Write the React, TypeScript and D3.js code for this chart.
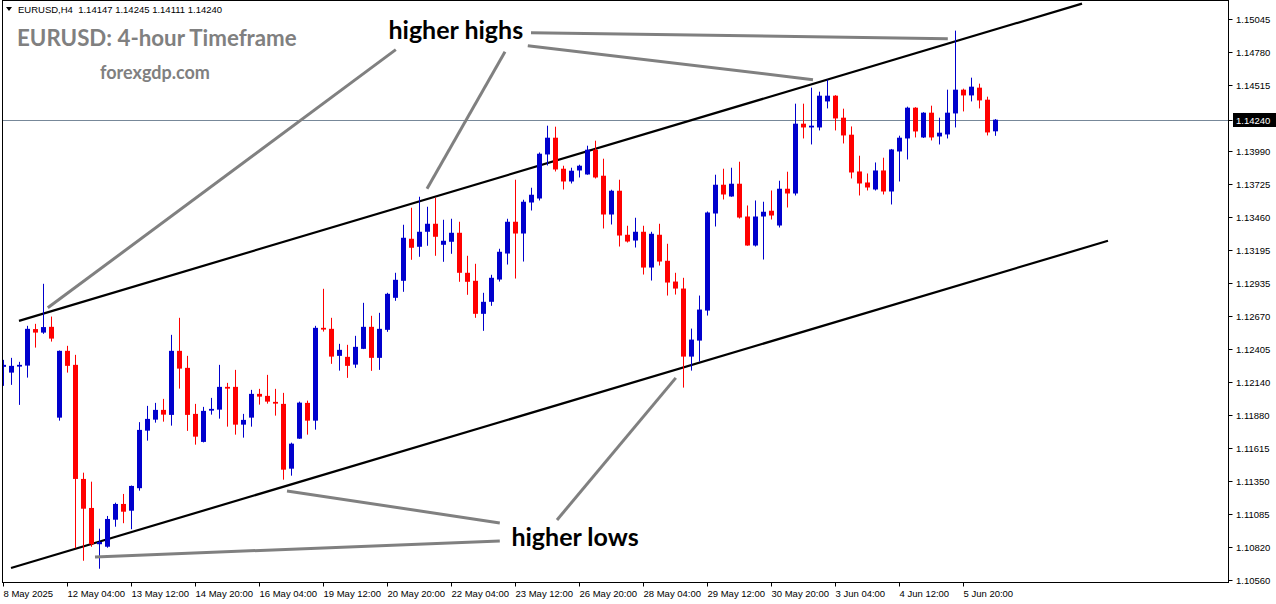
import React, { useEffect, useRef } from 'react';
import * as d3 from 'd3';

// EURUSD H4 bars, 8 May 20:00 -> 5 Jun 20:00
const openPrices = [
  1.12264, 1.12218, 1.12266, 1.12274, 1.12566, 1.12538, 1.12584, 1.11858, 1.12392, 1.12280,
  1.11368, 1.11136, 1.10846, 1.10826, 1.11042, 1.11168, 1.11114, 1.11294, 1.11754, 1.11842,
  1.11920, 1.11880, 1.12392, 1.12256, 1.11888, 1.11664, 1.11914, 1.11922, 1.12104, 1.12104,
  1.11802, 1.11858, 1.12048, 1.12032, 1.11984, 1.11968, 1.11450, 1.11690, 1.11976, 1.11834,
  1.12576, 1.12568, 1.12352, 1.12344, 1.12282, 1.12408, 1.12584, 1.12336, 1.12560, 1.12816,
  1.12952, 1.13288, 1.13224, 1.13344, 1.13408, 1.13240, 1.13264, 1.13336, 1.13016, 1.12952,
  1.12688, 1.12784, 1.12962, 1.13170, 1.13424, 1.13330, 1.13578, 1.13610, 1.13962, 1.14096,
  1.13848, 1.13746, 1.13834, 1.13802, 1.14000, 1.13792, 1.13482, 1.13672, 1.13320, 1.13274,
  1.13344, 1.13058, 1.13320, 1.13112, 1.12946, 1.12890, 1.12346, 1.12474, 1.12714, 1.13490,
  1.13720, 1.13626, 1.13728, 1.13466, 1.13234, 1.13466, 1.13512, 1.13394, 1.13688, 1.13650,
  1.14208, 1.14178, 1.14178, 1.14386, 1.14432, 1.14256, 1.14120, 1.13826, 1.13738, 1.13682,
  1.13834, 1.13666, 1.13986, 1.14090, 1.14336, 1.14098, 1.14296, 1.14106, 1.14122, 1.14290,
  1.14480, 1.14434, 1.14496, 1.14400, 1.14147,
];
const highPrices = [
  1.12320, 1.12336, 1.12304, 1.12592, 1.12608, 1.12928, 1.12666, 1.12395, 1.12432, 1.12360,
  1.11418, 1.11346, 1.10970, 1.11072, 1.11178, 1.11248, 1.11315, 1.11822, 1.11952, 1.11976,
  1.12008, 1.12520, 1.12656, 1.12352, 1.11968, 1.11944, 1.12016, 1.12280, 1.12136, 1.12240,
  1.11888, 1.12080, 1.12088, 1.12200, 1.12088, 1.12056, 1.11658, 1.11986, 1.11994, 1.12592,
  1.12888, 1.12656, 1.12448, 1.12440, 1.12512, 1.12776, 1.12672, 1.12696, 1.12856, 1.13016,
  1.13400, 1.13536, 1.13624, 1.13544, 1.13616, 1.13440, 1.13448, 1.13424, 1.13152, 1.13088,
  1.12856, 1.13000, 1.13208, 1.13448, 1.13760, 1.13600, 1.13696, 1.13978, 1.14192, 1.14184,
  1.13872, 1.13856, 1.13880, 1.14032, 1.14072, 1.13928, 1.13680, 1.13760, 1.13392, 1.13456,
  1.13392, 1.13344, 1.13408, 1.13248, 1.13016, 1.12976, 1.12570, 1.12834, 1.13506, 1.13800,
  1.13848, 1.13856, 1.13904, 1.13554, 1.13594, 1.13584, 1.13674, 1.13752, 1.13824, 1.14368,
  1.14368, 1.14496, 1.14464, 1.14560, 1.14436, 1.14328, 1.14186, 1.13952, 1.13810, 1.13898,
  1.13936, 1.14006, 1.14112, 1.14344, 1.14340, 1.14300, 1.14352, 1.14256, 1.14480, 1.14952,
  1.14488, 1.14576, 1.14528, 1.14424, 1.14245,
];
const lowPrices = [
  1.12112, 1.12120, 1.11960, 1.12178, 1.12418, 1.12528, 1.12466, 1.11834, 1.12218, 1.10814,
  1.10714, 1.10826, 1.10650, 1.10818, 1.10986, 1.11014, 1.10966, 1.11274, 1.11674, 1.11818,
  1.11826, 1.11794, 1.12090, 1.11752, 1.11642, 1.11660, 1.11882, 1.11850, 1.11786, 1.11722,
  1.11698, 1.11786, 1.11962, 1.11970, 1.11874, 1.11362, 1.11394, 1.11688, 1.11722, 1.11762,
  1.12546, 1.12288, 1.12234, 1.12176, 1.12256, 1.12406, 1.12232, 1.12240, 1.12544, 1.12792,
  1.12864, 1.13120, 1.13144, 1.13232, 1.13152, 1.13104, 1.13168, 1.12944, 1.12840, 1.12656,
  1.12552, 1.12752, 1.12946, 1.13082, 1.12970, 1.13106, 1.13514, 1.13594, 1.13874, 1.13826,
  1.13682, 1.13730, 1.13778, 1.13800, 1.13770, 1.13370, 1.13402, 1.13226, 1.13258, 1.13218,
  1.13002, 1.12954, 1.13074, 1.12834, 1.12842, 1.12098, 1.12234, 1.12306, 1.12674, 1.13386,
  1.13602, 1.13624, 1.13450, 1.13232, 1.13226, 1.13122, 1.13442, 1.13378, 1.13538, 1.13634,
  1.14090, 1.14042, 1.14154, 1.14330, 1.14154, 1.14050, 1.13770, 1.13634, 1.13674, 1.13674,
  1.13642, 1.13562, 1.13746, 1.13922, 1.14098, 1.14094, 1.14074, 1.14042, 1.14090, 1.14178,
  1.14306, 1.14386, 1.14330, 1.14114, 1.14111,
];
const closePrices = [
  1.12280, 1.12272, 1.12280, 1.12568, 1.12538, 1.12582, 1.12490, 1.12392, 1.12272, 1.11368,
  1.11130, 1.10846, 1.10864, 1.11048, 1.11168, 1.11106, 1.11312, 1.11760, 1.11848, 1.11920,
  1.11882, 1.12392, 1.12250, 1.11880, 1.11706, 1.11912, 1.11928, 1.12104, 1.12090, 1.11802,
  1.11840, 1.12048, 1.12026, 1.11986, 1.11970, 1.11442, 1.11650, 1.11978, 1.11834, 1.12576,
  1.12562, 1.12346, 1.12400, 1.12272, 1.12424, 1.12584, 1.12336, 1.12568, 1.12848, 1.12960,
  1.13296, 1.13216, 1.13344, 1.13408, 1.13304, 1.13272, 1.13336, 1.13016, 1.12944, 1.12688,
  1.12784, 1.12976, 1.13184, 1.13424, 1.13330, 1.13584, 1.13640, 1.13968, 1.14096, 1.13842,
  1.13746, 1.13832, 1.13872, 1.14000, 1.13778, 1.13482, 1.13672, 1.13314, 1.13266, 1.13344,
  1.13058, 1.13328, 1.13106, 1.12938, 1.12890, 1.12346, 1.12482, 1.12722, 1.13498, 1.13720,
  1.13642, 1.13728, 1.13458, 1.13234, 1.13466, 1.13504, 1.13474, 1.13688, 1.13650, 1.14208,
  1.14178, 1.14192, 1.14432, 1.14432, 1.14250, 1.14114, 1.13818, 1.13730, 1.13698, 1.13834,
  1.13666, 1.14002, 1.14096, 1.14336, 1.14146, 1.14296, 1.14098, 1.14136, 1.14296, 1.14480,
  1.14434, 1.14504, 1.14394, 1.14138, 1.14240,
];

const timeLabelBars = [0, 8, 16, 24, 32, 40, 48, 56, 64, 72, 80, 88, 96, 104, 112, 120];
const timeLabels = [
  '8 May 2025', '12 May 04:00', '13 May 12:00', '14 May 20:00', '16 May 04:00', '19 May 12:00',
  '20 May 20:00', '22 May 04:00', '23 May 12:00', '26 May 20:00', '28 May 04:00', '29 May 12:00',
  '30 May 20:00', '3 Jun 04:00', '4 Jun 12:00', '5 Jun 20:00',
];

const priceTicks = [
  1.15045, 1.14780, 1.14515, 1.13990, 1.13725, 1.13460, 1.13195, 1.12935, 1.12670,
  1.12405, 1.12140, 1.11880, 1.11615, 1.11350, 1.11085, 1.10820, 1.10560,
];

// channel lines: [bar, price] endpoints
const channelLines = [
  [[2, 1.12632], [134.875, 1.15168]],
  [[1, 1.10656], [138.125, 1.13272]],
];

// grey pointer lines from the labels to the swing points
const pointerLines = [
  [[49.1, 1.14800], [5.6, 1.12736]],
  [[62.75, 1.14784], [53, 1.13688]],
  [[65.6, 1.14832], [101.25, 1.14560]],
  [[66, 1.14936], [118.1, 1.14888]],
  [[62.1, 1.11016], [35.5, 1.11272]],
  [[62.1, 1.10872], [11.5, 1.10744]],
  [[69.25, 1.11040], [84.1, 1.12176]],
];

const annotations = [
  { text: 'higher highs', bar: 56.6, price: 1.14952 },
  { text: 'higher lows', bar: 71.5, price: 1.10904 },
];

const W = 1276;
const H = 604;

const App: React.FC = () => {
  const svgRef = useRef<SVGSVGElement>(null);

  useEffect(() => {
    if (!svgRef.current) return;
    const svg = d3.select(svgRef.current);
    svg.selectAll('*').remove();

    const frame = { left: 2.5, top: 0.5, right: 1228.5, bottom: 582.5 };

    const x = d3.scaleLinear().domain([0, 124]).range([3, 995]);
    const y = d3.scaleLinear().domain([1.1056, 1.15045]).range([580, 19]);

    svg.append('rect').attr('width', W).attr('height', H).attr('fill', '#ffffff');

    svg.append('clipPath').attr('id', 'plot')
      .append('rect')
      .attr('x', frame.left).attr('y', frame.top)
      .attr('width', frame.right - frame.left).attr('height', frame.bottom - frame.top);

    const plot = svg.append('g').attr('clip-path', 'url(#plot)');

    // current price line
    const last = closePrices.length - 1;
    plot.append('line')
      .attr('x1', frame.left).attr('x2', frame.right)
      .attr('y1', Math.round(y(closePrices[last])) + 0.5)
      .attr('y2', Math.round(y(closePrices[last])) + 0.5)
      .attr('stroke', '#778899').attr('stroke-width', 1);

    // channel
    channelLines.forEach(([a, b]) => {
      plot.append('line')
        .attr('x1', x(a[0])).attr('y1', y(a[1]))
        .attr('x2', x(b[0])).attr('y2', y(b[1]))
        .attr('stroke', '#000').attr('stroke-width', 2.2);
    });

    // candles
    const bars = d3.range(openPrices.length);
    const cx = (i: number) => Math.round(x(i)) + 0.5;
    const colour = (i: number) => (closePrices[i] >= openPrices[i] ? '#0000cd' : '#ff0000');

    plot.selectAll('.wick')
      .data(bars)
      .enter().append('line')
      .attr('x1', cx).attr('x2', cx)
      .attr('y1', i => y(highPrices[i]))
      .attr('y2', i => y(lowPrices[i]))
      .attr('stroke', colour).attr('stroke-width', 1);

    plot.selectAll('.body')
      .data(bars)
      .enter().append('rect')
      .attr('x', i => cx(i) - 2.5)
      .attr('width', 5)
      .attr('y', i => y(Math.max(openPrices[i], closePrices[i])))
      .attr('height', i => Math.max(1, Math.abs(y(openPrices[i]) - y(closePrices[i]))))
      .attr('fill', colour);

    // pointer lines
    pointerLines.forEach(([a, b]) => {
      plot.append('line')
        .attr('x1', x(a[0])).attr('y1', y(a[1]))
        .attr('x2', x(b[0])).attr('y2', y(b[1]))
        .attr('stroke', '#808080').attr('stroke-width', 3);
    });

    annotations.forEach(a => {
      plot.append('text')
        .attr('x', x(a.bar)).attr('y', y(a.price))
        .attr('dy', '0.35em')
        .attr('text-anchor', 'middle')
        .attr('font-family', 'Lato, "Noto Sans", sans-serif')
        .attr('font-weight', 'bold')
        .attr('font-size', 25)
        .attr('fill', '#000')
        .text(a.text);
    });

    // watermark titles
    svg.append('text')
      .attr('x', 17).attr('y', 46)
      .attr('font-family', 'Lato, "Noto Sans", sans-serif')
      .attr('font-weight', 'bold').attr('font-size', 22.3)
      .attr('fill', '#808080')
      .text('EURUSD: 4-hour Timeframe');
    svg.append('text')
      .attr('x', 100).attr('y', 79)
      .attr('font-family', 'Lato, "Noto Sans", sans-serif')
      .attr('font-weight', 'bold').attr('font-size', 18)
      .attr('fill', '#808080')
      .text('forexgdp.com');

    // header
    svg.append('path')
      .attr('d', 'M6,7 L12,7 L9,11 Z')
      .attr('fill', '#000');
    svg.append('text')
      .attr('x', 18).attr('y', 13)
      .attr('font-family', '"Liberation Sans", Arial, sans-serif')
      .attr('font-size', 9.5)
      .attr('fill', '#000')
      .attr('xml:space', 'preserve')
      .text(`EURUSD,H4  ${openPrices[last].toFixed(5)} ${highPrices[last].toFixed(5)} ${lowPrices[last].toFixed(5)} ${closePrices[last].toFixed(5)}`);

    // frame
    svg.append('rect')
      .attr('x', frame.left).attr('y', frame.top)
      .attr('width', frame.right - frame.left).attr('height', frame.bottom - frame.top)
      .attr('fill', 'none').attr('stroke', '#000').attr('stroke-width', 1);

    // price axis
    const axisFont = '"Liberation Sans", Arial, sans-serif';
    priceTicks.forEach(p => {
      const py = Math.round(y(p)) + 0.5;
      svg.append('line')
        .attr('x1', frame.right).attr('x2', frame.right + 4)
        .attr('y1', py).attr('y2', py)
        .attr('stroke', '#000');
      svg.append('text')
        .attr('x', 1236).attr('y', py).attr('dy', '0.35em')
        .attr('font-family', axisFont).attr('font-size', 9.5)
        .attr('fill', '#000')
        .text(p.toFixed(5));
    });

    const cy = Math.round(y(closePrices[last])) + 0.5;
    svg.append('line')
      .attr('x1', frame.right).attr('x2', frame.right + 4)
      .attr('y1', cy).attr('y2', cy).attr('stroke', '#000');
    svg.append('rect')
      .attr('x', 1233).attr('y', cy - 7.5)
      .attr('width', 43).attr('height', 14)
      .attr('fill', '#000');
    svg.append('text')
      .attr('x', 1236).attr('y', cy).attr('dy', '0.35em')
      .attr('font-family', axisFont).attr('font-size', 9.5)
      .attr('fill', '#fff')
      .text(closePrices[last].toFixed(5));

    // time axis
    timeLabelBars.forEach((b, k) => {
      const tx = Math.round(x(b)) + 0.5;
      svg.append('line')
        .attr('x1', tx).attr('x2', tx)
        .attr('y1', frame.bottom).attr('y2', frame.bottom + 4)
        .attr('stroke', '#000');
      svg.append('text')
        .attr('x', tx).attr('y', 597)
        .attr('font-family', axisFont).attr('font-size', 9.5)
        .attr('fill', '#000')
        .text(timeLabels[k]);
    });
  }, []);

  return (
    <svg
      ref={svgRef}
      width={W}
      height={H}
      style={{ position: 'absolute', left: 0, top: 0, display: 'block' }}
    />
  );
};

export default App;
